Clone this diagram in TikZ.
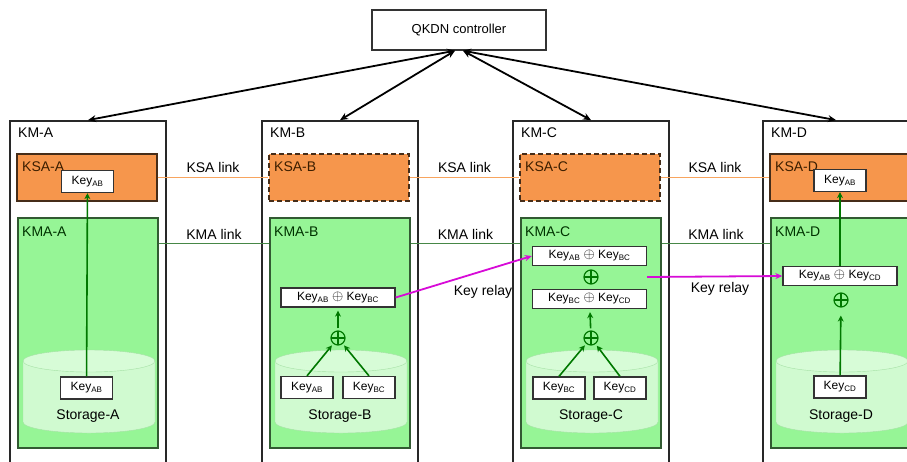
\documentclass[tikz,border=0pt]{standalone}
\usepackage{fontspec}
\setmainfont{Liberation Sans}
\usetikzlibrary{arrows.meta}

\definecolor{kmline}{RGB}{40,40,40}
\definecolor{ksaorange}{RGB}{246,150,76}
\definecolor{ksaline}{RGB}{70,45,25}
\definecolor{ksatext}{RGB}{60,30,0}
\definecolor{kmagreen}{RGB}{150,245,150}
\definecolor{kmaline}{RGB}{50,90,50}
\definecolor{kmatext}{RGB}{0,50,0}
\definecolor{storefill}{RGB}{208,250,208}
\definecolor{storetop}{RGB}{215,252,215}
\definecolor{storeline}{RGB}{165,225,165}
\definecolor{arrowgreen}{RGB}{0,120,0}
\definecolor{relaymag}{RGB}{215,10,215}
\definecolor{ksalinkcol}{RGB}{248,165,95}
\definecolor{kmalinkcol}{RGB}{70,135,70}

\newcommand{\keyof}[1]{Key\textsubscript{#1}}
\newcommand{\bigxor}{{\fontsize{15}{15}\selectfont$\oplus$}}

\begin{document}
\begin{tikzpicture}[x=1pt, y=-1pt,
	kmbox/.style={draw=kmline, line width=1.8pt, fill=white, minimum width=156pt, minimum height=360pt, inner sep=0pt},
	ksabox/.style={draw=ksaline, line width=1.4pt, fill=ksaorange, minimum width=140pt, minimum height=47pt, inner sep=0pt},
	ksasolid/.style={},
	ksadash/.style={dash pattern=on 5pt off 3pt},
	kmabox/.style={draw=kmaline, line width=1.3pt, fill=kmagreen, minimum width=140pt, minimum height=230pt, inner sep=0pt},
	arealbl/.style={anchor=west, inner sep=0pt, font=\fontsize{14}{16}\selectfont},
	linklbl/.style={inner sep=0pt, font=\fontsize{14}{16}\selectfont},
	keybox/.style={draw=black!80, line width=1.3pt, fill=white, font=\fontsize{12}{14}\selectfont, minimum width=52pt, minimum height=22pt, inner sep=1pt},
	sumbox/.style={keybox, minimum width=114pt, minimum height=19pt},
	oplus/.style={circle, draw=arrowgreen, line width=1.2pt, minimum size=14pt, inner sep=0pt,
		path picture={\draw[arrowgreen, line width=1.2pt] (path picture bounding box.north) -- (path picture bounding box.south)
			(path picture bounding box.west) -- (path picture bounding box.east);}},
	ctrlbox/.style={draw=black!80, line width=1.4pt, fill=white, minimum width=174pt, minimum height=40pt, font=\fontsize{13}{15}\selectfont},
	ctrlarrow/.style={{Stealth[length=8pt,width=7pt]}-{Stealth[length=8pt,width=7pt]}, line width=1.8pt},
	greenarrow/.style={-{Stealth[length=6pt,width=6pt]}, draw=arrowgreen, line width=1.6pt},
	relayarrow/.style={-{Stealth[length=7pt,width=6pt]}, draw=relaymag, line width=1.8pt},
	ksalink/.style={draw=ksalinkcol, line width=1.8pt},
	kmalink/.style={draw=kmalinkcol, line width=1.4pt}]
	
	\useasboundingbox (0,0) rectangle (907,461);
	\fill[white] (0,0) rectangle (907,461);
	\clip (0,0) rectangle (907,461);
	
	%controller
	\node[ctrlbox] (qkdn) at (459,30) {QKDN controller};
	
	%key managers
	\foreach \n/\x/\s in {A/10/ksasolid, B/262/ksadash, C/513/ksadash, D/763/ksasolid}{
		\node[kmbox] (km\n) at (\x+78,301) {};
		\node[arealbl] (lblkm\n) at (\x+8,133) {KM-\n};
		\node[ksabox,\s] (ksa\n) at (\x+77,177.5) {};
		\node[arealbl, text=ksatext] (lblksa\n) at (\x+12,167) {KSA-\n};
		\node[kmabox] (kma\n) at (\x+78,333) {};
		\node[arealbl, text=kmatext] (lblkma\n) at (\x+12,232) {KMA-\n};
		%storage
		\draw[storeline, fill=storefill] (\x+13,361) -- (\x+13,422)
			arc[start angle=180, end angle=0, x radius=66, y radius=11] -- (\x+145,361);
		\draw[storeline, fill=storetop] (\x+79,361) ellipse[x radius=66, y radius=11];
		\node[linklbl] (store\n) at (\x+78,416) {Storage-\n};
	}
	
	\draw[ctrlarrow] ([xshift=-4pt]qkdn.south) -- (kmA.north);
	\draw[ctrlarrow] ([xshift=-4pt]qkdn.south) -- (kmB.north);
	\draw[ctrlarrow] ([xshift=4pt]qkdn.south) -- (kmC.north);
	\draw[ctrlarrow] ([xshift=4pt]qkdn.south) -- ([xshift=-5pt]kmD.north);
	
	%links
	\foreach \a/\b in {A/B, B/C, C/D}{
		\draw[ksalink] (ksa\a.east) -- (ksa\b.west) node[linklbl, midway, above=4pt] (ksalink\a) {KSA link};
		\draw[kmalink] ([yshift=-26pt]kma\a.north east) -- ([yshift=-26pt]kma\b.north west)
			node[linklbl, midway, above=3pt] (kmalink\a) {KMA link};
	}
	
	%keys
	\node[keybox] (keyksaA) at (87.5,181.5) {\keyof{AB}};
	\node[keybox] (keystA) at (86.5,388) {\keyof{AB}};
	
	\node[sumbox] (sumB) at (338,297.5) {\keyof{AB} \bigxor{} \keyof{BC}};
	\node[oplus] (xorB) at (338,338) {};
	\node[keybox] (keystB1) at (307,387.5) {\keyof{AB}};
	\node[keybox] (keystB2) at (369,387.5) {\keyof{BC}};
	
	\node[sumbox] (sumC1) at (589.5,256) {\keyof{AB} \bigxor{} \keyof{BC}};
	\node[oplus] (xorC1) at (591,277) {};
	\node[sumbox] (sumC2) at (589.5,299) {\keyof{BC} \bigxor{} \keyof{CD}};
	\node[oplus] (xorC2) at (591,338) {};
	\node[keybox] (keystC1) at (559,388) {\keyof{BC}};
	\node[keybox] (keystC2) at (620,388) {\keyof{CD}};
	
	\node[keybox] (keyksaD) at (840,180.5) {\keyof{AB}};
	\node[sumbox] (sumD) at (840,276) {\keyof{AB} \bigxor{} \keyof{CD}};
	\node[oplus] (xorD) at (841,300) {};
	\node[keybox] (keystD) at (840,387) {\keyof{CD}};
	
	%key flow
	\draw[greenarrow] (keystA) -- (keyksaA);
	\draw[greenarrow, shorten >=2pt] (keystB1.north) -- (xorB);
	\draw[greenarrow, shorten >=2pt] (keystB2.north) -- (xorB);
	\draw[greenarrow, shorten <=2pt, shorten >=3pt] (xorB) -- (sumB);
	\draw[greenarrow, shorten >=2pt] (keystC1.north) -- (xorC2);
	\draw[greenarrow, shorten >=2pt] (keystC2.north) -- (xorC2);
	\draw[greenarrow, shorten <=2pt, shorten >=3pt] (xorC2) -- (sumC2);
	\draw[greenarrow, shorten >=8pt] (keystD) -- (xorD);
	\draw[greenarrow] (sumD) -- (keyksaD);
	
	%relay
	\coordinate (relayC) at (647,277);
	\draw[relayarrow] (sumB.east) -- (sumC1.west);
	\draw[relayarrow] (relayC) -- (sumD.west);
	\node[linklbl] (relayBC) at (483,292) {Key relay};
	\node[linklbl] (relayCD) at (720,289) {Key relay};
\end{tikzpicture}
\end{document}
